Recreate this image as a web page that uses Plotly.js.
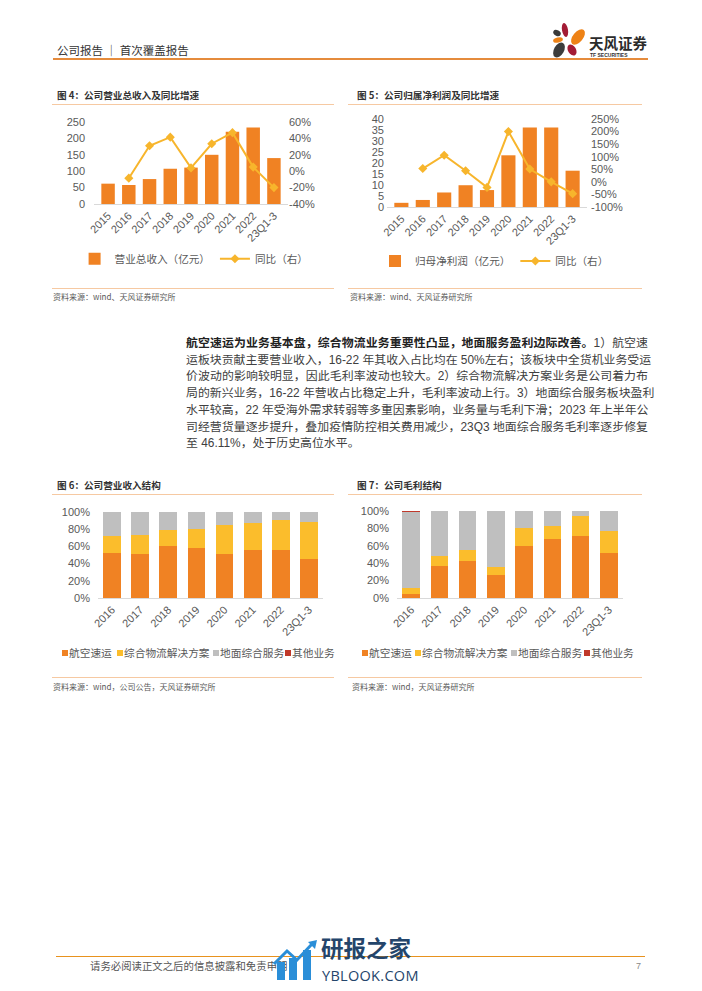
<!DOCTYPE html>
<html><head><meta charset="utf-8">
<script src="https://cdn.plot.ly/plotly-3.0.1.min.js"></script>
<style>
html,body{margin:0;padding:0;background:#fff;}
#page{position:relative;width:702px;height:991px;overflow:hidden;font-family:"Liberation Sans","Noto Sans CJK SC",sans-serif;color:#333;background:#fff;}
.hl{position:absolute;height:0;}
.ctitle{position:absolute;font-size:9.6px;font-weight:bold;color:#333;line-height:12px;white-space:nowrap;font-family:"Noto Sans CJK SC",sans-serif;}
.src{position:absolute;font-size:8px;color:#595959;white-space:nowrap;line-height:10px;font-family:"Noto Sans CJK SC",sans-serif;}
.chart{position:absolute;}
.para{position:absolute;left:186px;top:334px;width:462px;font-size:11.9px;line-height:16.7px;color:#404040;font-family:"Liberation Sans","Noto Sans CJK SC",sans-serif;}
.para div{white-space:nowrap;text-align:justify;text-align-last:justify;}
.para div.last{text-align-last:left;}
.para b{color:#222;font-family:"Noto Sans CJK SC",sans-serif;}
.leg{position:absolute;height:14px;overflow:hidden;white-space:nowrap;font-size:10.7px;color:#595959;font-family:"Noto Sans CJK SC",sans-serif;}
.leg .sq{position:absolute;width:6px;height:6px;top:4px;}
.leg .tx{position:absolute;top:0;line-height:14px;}
</style>
</head>
<body>
<div id="page">
  <!-- header -->
  <div style="position:absolute;left:57px;top:43px;font-size:11.5px;line-height:14px;color:#333;font-family:'Noto Sans CJK SC',sans-serif;">公司报告 ｜ 首次覆盖报告</div>
  <div class="hl" style="left:53px;top:58px;width:595px;border-top:2px solid #E58B3C;"></div>
  <svg style="position:absolute;left:0;top:0;" width="702" height="70">
    <ellipse cx="565" cy="30" rx="3" ry="7" fill="#A31B35" transform="rotate(-10 565 30)"/>
    <ellipse cx="578" cy="37" rx="5" ry="9" fill="#EE8216" transform="rotate(40 578 37)"/>
    <ellipse cx="557" cy="33" rx="4" ry="2.8" fill="#3A3A3A" transform="rotate(30 557 33)"/>
    <ellipse cx="558" cy="40" rx="5" ry="2.5" fill="#EE8216" transform="rotate(-15 558 40)"/>
    <ellipse cx="559" cy="50" rx="5" ry="8" fill="#3C3C3C" transform="rotate(30 559 50)"/>
    <ellipse cx="572" cy="50" rx="4" ry="6" fill="#A31B35" transform="rotate(-30 572 50)"/>
    <text x="589" y="48.5" font-size="14.5" font-weight="bold" fill="#2b2b2b" font-family="Noto Sans CJK SC">天风证券</text>
    <text x="590" y="57" font-size="5" font-weight="bold" fill="#333" font-family="Liberation Sans">TF SECURITIES</text>
  </svg>

  <!-- chart 4 -->
  <div class="ctitle" style="left:57px;top:89px;">图 4：公司营业总收入及同比增速</div>
  <div class="hl" style="left:52px;top:104px;width:282px;border-top:1px solid #F6C9A2;"></div>
  <div id="c4" class="chart" style="left:50px;top:110px;width:290px;height:175px;"></div>
  <div class="hl" style="left:52px;top:288px;width:282px;border-top:1px solid #F6C9A2;"></div>
  <div class="src" style="left:53px;top:292px;">资料来源：wind、天风证券研究所</div>

  <!-- chart 5 -->
  <div class="ctitle" style="left:357px;top:89px;">图 5：公司归属净利润及同比增速</div>
  <div class="hl" style="left:348px;top:104px;width:294px;border-top:1px solid #F6C9A2;"></div>
  <div id="c5" class="chart" style="left:345px;top:110px;width:297px;height:175px;"></div>
  <div class="hl" style="left:348px;top:288px;width:294px;border-top:1px solid #F6C9A2;"></div>
  <div class="src" style="left:350px;top:292px;">资料来源：wind、天风证券研究所</div>

  <!-- paragraph -->
  <div class="para">
    <div><b>航空速运为业务基本盘，综合物流业务重要性凸显，地面服务盈利边际改善。</b>1）航空速</div>
    <div>运板块贡献主要营业收入，16-22 年其收入占比均在 50%左右；该板块中全货机业务受运</div>
    <div>价波动的影响较明显，因此毛利率波动也较大。2）综合物流解决方案业务是公司着力布</div>
    <div>局的新兴业务，16-22 年营收占比稳定上升，毛利率波动上行。3）地面综合服务板块盈利</div>
    <div>水平较高，22 年受海外需求转弱等多重因素影响，业务量与毛利下滑；2023 年上半年公</div>
    <div>司经营货量逐步提升，叠加疫情防控相关费用减少，23Q3 地面综合服务毛利率逐步修复</div>
    <div class="last">至 46.11%，处于历史高位水平。</div>
  </div>

  <!-- chart 6 -->
  <div class="ctitle" style="left:57px;top:479px;">图 6：公司营业收入结构</div>
  <div class="hl" style="left:52px;top:494px;width:282px;border-top:1px solid #F6C9A2;"></div>
  <div id="c6" class="chart" style="left:50px;top:500px;width:290px;height:150px;"></div>
  <div id="leg6" class="leg" style="left:58px;top:646px;width:281px;"></div>
  <div class="hl" style="left:52px;top:677px;width:282px;border-top:1px solid #F6C9A2;"></div>
  <div class="src" style="left:53px;top:682px;">资料来源：wind，公司公告，天风证券研究所</div>

  <!-- chart 7 -->
  <div class="ctitle" style="left:357px;top:479px;">图 7：公司毛利结构</div>
  <div class="hl" style="left:348px;top:494px;width:294px;border-top:1px solid #F6C9A2;"></div>
  <div id="c7" class="chart" style="left:345px;top:500px;width:297px;height:150px;"></div>
  <div id="leg7" class="leg" style="left:355px;top:646px;width:290px;"></div>
  <div class="hl" style="left:348px;top:677px;width:294px;border-top:1px solid #F6C9A2;"></div>
  <div class="src" style="left:352px;top:682px;">资料来源：wind，天风证券研究所</div>

  <!-- footer -->
  <div class="hl" style="left:56px;top:956px;width:589px;border-top:1.5px solid #E8921E;"></div>
  <div style="position:absolute;left:90px;top:959px;font-size:10.4px;line-height:14px;color:#555;font-family:'Noto Sans CJK SC',sans-serif;">请务必阅读正文之后的信息披露和免责申明</div>
  <div style="position:absolute;left:636px;top:960px;font-size:9px;line-height:12px;color:#888;">7</div>
  <svg style="position:absolute;left:0;top:930px;" width="702" height="61">
    <rect x="277" y="32" width="8" height="18" fill="#2A8ED8"/>
    <rect x="289" y="28" width="8" height="22" fill="#2A8ED8"/>
    <rect x="303" y="20" width="8" height="30" fill="#2A8ED8"/>
    <polyline points="274,34 287,21 297,30 312,14" fill="none" stroke="#2A8ED8" stroke-width="3"/>
    <polygon points="317,10 308,12 315,19" fill="#2A8ED8"/>
    <text x="321" y="27" font-size="22.5" font-weight="bold" fill="#24456B" font-family="Noto Sans CJK SC">研报之家</text>
    <text x="322" y="50.5" font-size="14.5" fill="#24456B" font-family="Open Sans" letter-spacing="0.3">YBLOOK.COM</text>
  </svg>
</div>

<script>
// ---------- data ----------
const years9 = ['2015','2016','2017','2018','2019','2020','2021','2022','23Q1-3'];
const revenue = [62, 58, 76, 107.5, 111, 150, 220, 233, 140];            // 营业总收入（亿元）
const revenueYoY = [null, -8.5, 31, 41.5, 4, 33.5, 47, 5, -20];          // 同比（%）
const netProfit = [1.9, 3.2, 6.6, 9.9, 7.7, 23.5, 36.1, 36.1, 16.5];      // 归母净利润（亿元）
const netProfitYoY = [null, 53, 106, 44, -22, 200, 51, 0, -47];           // 同比（%）

const years8 = ['2016','2017','2018','2019','2020','2021','2022','23Q1-3'];
const segNames = ['航空速运','综合物流解决方案','地面综合服务','其他业务'];
// 营业收入结构（%）
const revAir       = [52.5, 51.4, 60.3, 58.4, 51.4, 55.3, 56.0, 45.5];
const revLogistics = [19.9, 21.4, 18.7, 21.4, 33.0, 31.9, 34.3, 42.5];
const revGround    = [27.6, 27.2, 21.0, 20.2, 15.6, 12.8,  9.7, 12.0];
const revOther     = [0, 0, 0, 0, 0, 0, 0, 0];
// 毛利结构（%）
const gpAir        = [4.6, 37.2, 42.1, 26.4, 59.8, 67.4, 71.3, 51.7];
const gpLogistics  = [6.5, 11.1, 13.1,  9.6, 20.7, 15.7, 22.6, 25.7];
const gpGround     = [88.1, 51.3, 44.8, 63.6, 19.5, 16.9, 6.1, 22.6];
const gpOther      = [0.8, 0.4, 0, 0.4, 0, 0, 0, 0];

const yTicks4 = [0, 50, 100, 150, 200, 250];
const y2Ticks4 = [-40, -20, 0, 20, 40, 60];
const y2Text4 = ['-40%','-20%','0%','20%','40%','60%'];
const yTicks5 = [0, 5, 10, 15, 20, 25, 30, 35, 40];
const y2Ticks5 = [-100, -50, 0, 50, 100, 150, 200, 250];
const y2Text5 = ['-100%','-50%','0%','50%','100%','150%','200%','250%'];
const pctTicks = [0, 20, 40, 60, 80, 100];
const pctText = ['0%','20%','40%','60%','80%','100%'];

// ---------- style ----------
const FONT = '"Liberation Sans","Noto Sans CJK SC",sans-serif';
const ORANGE = '#F08223', YELLOW = '#F7B52C', GRAY = '#BFBFBF', RED = '#C0392B';
const SEG_COLORS = [ORANGE, '#FBBD2C', GRAY, RED];
const cfg = {staticPlot: true, displayModeBar: false};

function xAxis() {
  return {type: 'category', tickangle: -45, showline: true, linecolor: '#D9D9D9', linewidth: 1,
          ticks: '', showgrid: false, zeroline: false, automargin: false,
          tickfont: {size: 11, color: '#595959'}};
}
function yAxis(range, tickvals, ticktext, standoff) {
  const a = {range: range, tickvals: tickvals, showgrid: false, zeroline: false, showline: false,
             ticks: '', automargin: false, fixedrange: true, ticklabelstandoff: standoff,
             tickfont: {size: 11, color: '#595959'}};
  if (ticktext) a.ticktext = ticktext;
  return a;
}
function base(w, h, m) {
  return {width: w, height: h, margin: m, paper_bgcolor: 'rgba(0,0,0,0)', plot_bgcolor: 'rgba(0,0,0,0)',
          font: {family: FONT, size: 11, color: '#595959'}, hovermode: false};
}

// ---------- chart 4 ----------
(function () {
  const L = base(290, 175, {l: 44, r: 52, t: 12, b: 76});
  L.xaxis = xAxis();
  L.yaxis = yAxis([0, 250], yTicks4, null, 8);
  L.yaxis2 = Object.assign(yAxis([-40, 60], y2Ticks4, y2Text4, 0), {overlaying: 'y', side: 'right'});
  L.bargap = 0.35;
  L.showlegend = true;
  L.legend = {orientation: 'h', x: -0.10, xanchor: 'left', y: -0.667, yanchor: 'middle',
              font: {size: 10.6, color: '#595959', family: '"Noto Sans CJK SC",sans-serif'},
              bgcolor: 'rgba(0,0,0,0)', itemwidth: 30, traceorder: 'normal'};
  Plotly.newPlot('c4', [
    {type: 'bar', x: years9, y: revenue, name: '营业总收入（亿元）', marker: {color: ORANGE}},
    {type: 'scatter', mode: 'lines+markers', x: years9, y: revenueYoY, yaxis: 'y2', name: '同比（右）',
     line: {color: YELLOW, width: 2}, marker: {symbol: 'diamond', size: 7, color: YELLOW}}
  ], L, cfg);
})();

// ---------- chart 5 ----------
(function () {
  const L = base(297, 175, {l: 42, r: 55, t: 9, b: 73});
  L.xaxis = xAxis();
  L.yaxis = yAxis([0, 40], yTicks5, null, 2);
  L.yaxis2 = Object.assign(yAxis([-100, 250], y2Ticks5, y2Text5, 3), {overlaying: 'y', side: 'right'});
  L.bargap = 0.34;
  L.showlegend = true;
  L.legend = {orientation: 'h', x: -0.06, xanchor: 'left', y: -0.613, yanchor: 'middle',
              font: {size: 10.6, color: '#595959', family: '"Noto Sans CJK SC",sans-serif'},
              bgcolor: 'rgba(0,0,0,0)', itemwidth: 30, traceorder: 'normal'};
  Plotly.newPlot('c5', [
    {type: 'bar', x: years9, y: netProfit, name: '归母净利润（亿元）', marker: {color: ORANGE}},
    {type: 'scatter', mode: 'lines+markers', x: years9, y: netProfitYoY, yaxis: 'y2', name: '同比（右）',
     line: {color: YELLOW, width: 2}, marker: {symbol: 'diamond', size: 7, color: YELLOW}}
  ], L, cfg);
})();

// ---------- stacked charts ----------
function stacked(id, w, m, gap, series) {
  const L = base(w, 150, m);
  L.xaxis = xAxis();
  L.yaxis = yAxis([0, 100], pctTicks, pctText, 7);
  L.barmode = 'stack';
  L.bargap = gap;
  L.showlegend = false;
  const traces = series.map((s, i) => ({type: 'bar', x: years8, y: s, name: segNames[i],
                                          marker: {color: SEG_COLORS[i], line: {width: 0}}}));
  Plotly.newPlot(id, traces, L, cfg);
}
stacked('c6', 290, {l: 48, r: 17, t: 12, b: 52}, 0.37, [revAir, revLogistics, revGround, revOther]);
stacked('c7', 297, {l: 52, r: 19, t: 11, b: 52}, 0.38, [gpAir, gpLogistics, gpGround, gpOther]);

// legends for stacked charts (one tight row, as in the source)
function legend(id, offsets) {
  const box = document.getElementById(id);
  segNames.forEach((n, i) => {
    const sq = document.createElement('div');
    sq.className = 'sq'; sq.style.left = offsets[i] + 'px'; sq.style.background = SEG_COLORS[i];
    const tx = document.createElement('div');
    tx.className = 'tx'; tx.style.left = (offsets[i] + 7) + 'px'; tx.textContent = n;
    box.appendChild(sq); box.appendChild(tx);
  });
}
legend('leg6', [4, 59, 155, 227]);
legend('leg7', [7, 60, 156, 229]);
</script>
</body></html>
